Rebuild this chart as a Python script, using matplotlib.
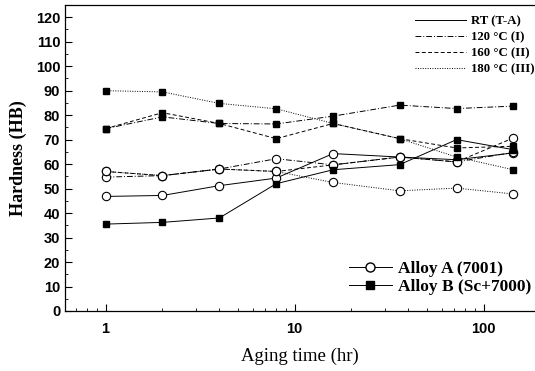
import matplotlib
matplotlib.use("Agg")
import matplotlib.pyplot as plt
from matplotlib.lines import Line2D
from matplotlib.ticker import MultipleLocator, FixedLocator, LogLocator, NullFormatter

# Data
aging_time = [1, 2, 4, 8, 16, 36, 72, 144]

alloyA_RT = [46.8, 47.2, 51.2, 54.3, 64.3, 62.9, 61.8, 64.6]
alloyA_120 = [54.7, 55.3, 58.0, 62.2, 59.7, 62.9, 60.9, 64.8]
alloyA_160 = [57.0, 55.3, 58.0, 57.0, 59.7, 62.9, 60.9, 70.7]
alloyA_180 = [57.0, 55.3, 58.0, 57.0, 52.5, 49.1, 50.2, 47.8]

alloyB_RT = [35.5, 36.2, 38.0, 52.0, 57.7, 59.8, 70.0, 65.9]
alloyB_120 = [74.5, 79.3, 76.6, 76.4, 79.6, 84.1, 82.7, 83.7]
alloyB_160 = [74.5, 81.0, 76.6, 70.4, 76.6, 70.4, 66.6, 67.3]
alloyB_180 = [90.0, 89.5, 84.8, 82.6, 76.6, 70.4, 62.9, 57.7]

temp_labels = ["RT (T-A)", "120 \u00b0C (I)", "160 \u00b0C (II)", "180 \u00b0C (III)"]
alloy_labels = ["Alloy A (7001)", "Alloy B (Sc+7000)"]
x_ticks = [1, 10, 100]
x_tick_labels = ["1", "10", "100"]

styles = ["-", (0, (6, 2, 1, 2)), (0, (4, 2.5)), (0, (1, 1.5))]

fig = plt.figure(figsize=(5.35, 3.71), dpi=100)
ax = fig.add_axes([65/535, 60/371, 469/535, 306/371])

A_series = [alloyA_RT, alloyA_120, alloyA_160, alloyA_180]
B_series = [alloyB_RT, alloyB_120, alloyB_160, alloyB_180]
lw = 0.7
for ys, ls in zip(A_series, styles):
    ax.plot(aging_time, ys, color="black", linestyle=ls, linewidth=lw,
            marker="o", markersize=6, markerfacecolor="white",
            markeredgecolor="black", markeredgewidth=0.8, zorder=3)
for ys, ls in zip(B_series, styles):
    ax.plot(aging_time, ys, color="black", linestyle=ls, linewidth=lw,
            marker="s", markersize=5, markerfacecolor="black",
            markeredgecolor="black", zorder=3)

ax.set_xscale("log")
ax.set_xlim(0.61, 185)
ax.set_ylim(0, 125)
ax.xaxis.set_major_locator(FixedLocator(x_ticks))
ax.set_xticklabels(x_tick_labels)
ax.xaxis.set_minor_locator(LogLocator(base=10, subs=range(2, 10)))
ax.xaxis.set_minor_formatter(NullFormatter())
ax.yaxis.set_major_locator(MultipleLocator(10))
ax.yaxis.set_minor_locator(MultipleLocator(5))

ax.tick_params(which="both", direction="in", top=False, right=False)
ax.tick_params(which="major", length=5, width=0.8)
ax.tick_params(which="minor", length=2.5, width=0.6)
for lab in ax.get_xticklabels() + ax.get_yticklabels():
    lab.set_fontfamily("Liberation Sans")
    lab.set_fontweight("bold")
    lab.set_fontsize(10.5)
ax.tick_params(axis="x", pad=8)
for sp in ax.spines.values():
    sp.set_linewidth(0.9)
ax.spines["right"].set_visible(False)

ax.set_ylabel("Hardness (HB)", fontfamily="Liberation Serif", fontweight="bold",
              fontsize=13, labelpad=6)
ax.set_xlabel("Aging time (hr)", fontfamily="Liberation Serif", fontsize=13.5,
              labelpad=8)

# Legend 1: line styles (temperature)
h1 = [Line2D([0], [0], color="black", linestyle=ls, linewidth=lw) for ls in styles]
leg1 = ax.legend(h1, temp_labels, loc="upper left", bbox_to_anchor=(403/535, 1 - 4/371),
                 bbox_transform=fig.transFigure, frameon=False, handlelength=4.0,
                 handletextpad=0.4, labelspacing=0.3,
                 prop={"family": "Liberation Serif", "weight": "bold", "size": 9.2})
ax.add_artist(leg1)

# Legend 2: markers (alloys)
h2 = [Line2D([0], [0], color="black", linewidth=lw, marker="o", markersize=6.5,
             markerfacecolor="white", markeredgecolor="black"),
      Line2D([0], [0], color="black", linewidth=lw, marker="s", markersize=5.5,
             markerfacecolor="black", markeredgecolor="black")]
ax.legend(h2, alloy_labels, loc="upper left", bbox_to_anchor=(333/535, 1 - 245/371),
          bbox_transform=fig.transFigure, frameon=False, handlelength=2.5,
          handletextpad=0.35, labelspacing=0.12,
          prop={"family": "Liberation Serif", "weight": "bold", "size": 12.5})

fig.savefig("out.png", dpi=100)
